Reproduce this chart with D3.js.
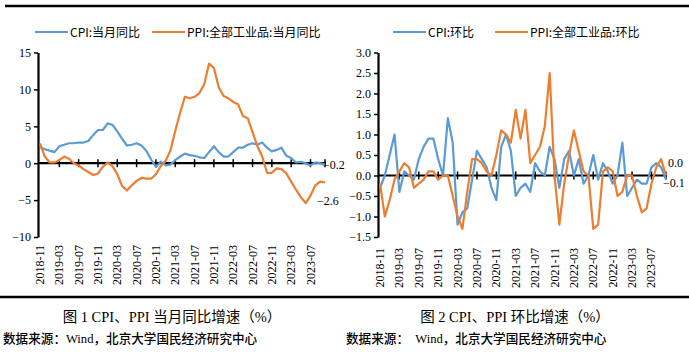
<!DOCTYPE html>
<html>
<head>
<meta charset="utf-8">
<script src="https://cdn.jsdelivr.net/npm/d3@7"></script>
<style>
  body { margin: 0; background: #fff; }
  svg { display: block; }
  .tick text { font-family: "Liberation Serif", "Times New Roman", serif; font-size: 12px; fill: #000; }
</style>
</head>
<body>
<script>
// months 2018-11 .. 2023-10
var months = [
  "2018-11","2018-12",
  "2019-01","2019-02","2019-03","2019-04","2019-05","2019-06","2019-07","2019-08","2019-09","2019-10","2019-11","2019-12",
  "2020-01","2020-02","2020-03","2020-04","2020-05","2020-06","2020-07","2020-08","2020-09","2020-10","2020-11","2020-12",
  "2021-01","2021-02","2021-03","2021-04","2021-05","2021-06","2021-07","2021-08","2021-09","2021-10","2021-11","2021-12",
  "2022-01","2022-02","2022-03","2022-04","2022-05","2022-06","2022-07","2022-08","2022-09","2022-10","2022-11","2022-12",
  "2023-01","2023-02","2023-03","2023-04","2023-05","2023-06","2023-07","2023-08","2023-09","2023-10"
];
var tickLabels = ["2018-11","2019-03","2019-07","2019-11","2020-03","2020-07","2020-11",
  "2021-03","2021-07","2021-11","2022-03","2022-07","2022-11","2023-03","2023-07"];

// 当月同比
var cpiYoy = [2.2,1.9,
  1.7,1.5,2.3,2.5,2.7,2.7,2.8,2.8,3.0,3.8,4.5,4.5,
  5.4,5.2,4.3,3.3,2.4,2.5,2.7,2.4,1.7,0.5,-0.5,0.2,
  -0.3,-0.2,0.4,0.9,1.3,1.1,1.0,0.8,0.7,1.5,2.3,1.5,
  0.9,0.9,1.5,2.1,2.1,2.5,2.7,2.5,2.8,2.1,1.6,1.8,
  2.1,1.0,0.7,0.1,0.2,0.0,-0.3,0.1,0.0,-0.2];
var ppiYoy = [2.7,0.9,
  0.1,0.1,0.4,0.9,0.6,0.0,-0.3,-0.8,-1.2,-1.6,-1.4,-0.5,
  0.1,-0.4,-1.5,-3.1,-3.7,-3.0,-2.4,-2.0,-2.1,-2.1,-1.5,-0.4,
  0.3,1.7,4.4,6.8,9.0,8.8,9.0,9.5,10.7,13.5,12.9,10.3,
  9.1,8.8,8.3,8.0,6.4,6.1,4.2,2.3,0.9,-1.3,-1.3,-0.7,
  -0.8,-1.4,-2.5,-3.6,-4.6,-5.4,-4.4,-3.0,-2.5,-2.6];

// 环比
var cpiMom = [-0.3,0.0,
  0.5,1.0,-0.4,0.1,0.0,-0.1,0.4,0.7,0.9,0.9,0.4,0.0,
  1.4,0.8,-1.2,-0.9,-0.8,-0.1,0.6,0.4,0.2,-0.3,-0.6,0.7,
  1.0,0.6,-0.5,-0.3,-0.2,-0.4,0.3,0.1,0.0,0.7,0.4,-0.3,
  0.4,0.6,0.0,0.4,-0.2,0.0,0.5,-0.1,0.3,0.1,-0.2,0.0,
  0.8,-0.5,-0.3,-0.1,-0.2,-0.2,0.2,0.3,0.2,-0.1];
var ppiMom = [-0.2,-1.0,
  -0.6,-0.1,0.1,0.3,0.2,-0.3,-0.2,-0.1,0.1,0.1,-0.1,0.0,
  0.0,-0.5,-1.0,-1.3,-0.4,0.4,0.4,0.3,0.1,0.0,0.5,1.1,
  1.0,0.8,1.6,0.9,1.6,0.3,0.5,0.7,1.2,2.5,0.0,-1.2,
  -0.2,0.5,1.1,0.6,0.1,0.0,-1.3,-1.2,0.1,0.2,0.1,-0.5,
  -0.4,0.0,0.0,-0.5,-0.9,-0.8,-0.2,0.2,0.4,0.0];

var blue = "#5B9BD5", orange = "#ED7D31";
var W = 689, H = 352;

var svg = d3.select("body").append("svg")
    .attr("width", W).attr("height", H);

// frame lines top / bottom
svg.append("line").attr("x1", 5).attr("x2", W).attr("y1", 6).attr("y2", 6)
    .attr("stroke", "#000").attr("stroke-width", 2.5);
svg.append("line").attr("x1", 0).attr("x2", W).attr("y1", 297).attr("y2", 297)
    .attr("stroke", "#000").attr("stroke-width", 2.5);

function plot_panel(p) {
    var x = d3.scalePoint().domain(months).range([p.x0, p.x1]);
    var y = d3.scaleLinear().domain(p.ylim).range([237, 52.5]);
    var g = svg.append("g");

    // y axis
    var yAx = g.append("g")
        .attr("transform", "translate(" + p.ax + ",0)")
        .call(d3.axisLeft(y).tickValues(p.yticks).tickFormat(p.yfmt).tickSize(4).tickSizeOuter(0));
    yAx.select(".domain").attr("stroke-width", 2.2);
    yAx.selectAll(".tick line").attr("stroke-width", 1.5);
    yAx.selectAll(".tick text").attr("x", -7);

    // zero line with crossing ticks
    var y0 = y(0);
    g.append("line").attr("x1", p.ax).attr("x2", p.x1 + 1)
        .attr("y1", y0).attr("y2", y0).attr("stroke", "#000").attr("stroke-width", 2.2);
    g.selectAll(".xt").data(tickLabels.slice(1).concat([months[months.length - 1]]))
      .enter().append("line")
        .attr("x1", function(d) { return x(d); }).attr("x2", function(d) { return x(d); })
        .attr("y1", y0 - 4).attr("y2", y0 + 4)
        .attr("stroke", "#000").attr("stroke-width", 1.5);

    // x labels at bottom, rotated
    g.selectAll(".xl").data(tickLabels).enter().append("text")
        .attr("transform", function(d) { return "translate(" + (x(d) + 4) + "," + p.labTop + ") rotate(-90)"; })
        .attr("text-anchor", "end")
        .style("font-family", "'Liberation Serif', 'Times New Roman', serif")
        .style("font-size", "12px")
        .text(function(d) { return d; });

    // lines
    var line = d3.line()
        .x(function(d, i) { return x(months[i]); })
        .y(function(d) { return y(d); });
    [[p.cpi, blue], [p.ppi, orange]].forEach(function(s) {
        g.append("path").attr("d", line(s[0]))
            .attr("fill", "none").attr("stroke", s[1])
            .attr("stroke-width", 2.2).attr("stroke-linejoin", "round");
    });

    // end labels
    var last = months.length - 1;
    p.endLabels.forEach(function(l) {
        g.append("text")
            .attr("x", x(months[last]) + l.dx)
            .attr("y", y(l.v) + l.dy)
            .style("font-family", "'Liberation Serif', 'Times New Roman', serif")
            .style("font-size", "12px")
            .text(p.yfmtLab(l.v));
    });

    // legend
    var lg = g.append("g").attr("transform", "translate(0,32)");
    p.legend.forEach(function(l) {
        lg.append("line").attr("x1", l.x).attr("x2", l.x + 33).attr("y1", 0).attr("y2", 0)
            .attr("stroke", l.c).attr("stroke-width", 2.2);
        lg.append("text").attr("x", l.x + 35).attr("y", 4.5)
            .style("font-family", "'Noto Sans CJK SC', sans-serif")
            .style("font-size", "12px")
            .text(l.t);
    });

    // caption & source
    g.append("text").attr("x", p.capX).attr("y", 322).attr("text-anchor", "middle")
        .style("font-family", "'Liberation Serif', 'Noto Sans CJK SC', serif")
        .style("font-size", "14.5px")
        .text(p.caption);
    g.append("text").attr("x", p.srcX).attr("y", 343)
        .style("font-family", "'Liberation Serif', 'Noto Sans CJK SC', serif")
        .style("font-size", "12.6px")
        .style("font-weight", "500")
        .attr("xml:space", "preserve")
        .text(p.source);
}

plot_panel({
    ax: 38, x0: 40, x1: 325, ylim: [-10, 15], yticks: [-10, -5, 0, 5, 10, 15],
    yfmt: d3.format("d"), yfmtLab: d3.format(".1f"), labTop: 245,
    cpi: cpiYoy, ppi: ppiYoy,
    endLabels: [{v: cpiYoy[cpiYoy.length - 1], dx: -2, dy: 4.5}, {v: ppiYoy[ppiYoy.length - 1], dx: -8, dy: 23}],
    legend: [{x: 35, c: blue, t: "CPI:当月同比"}, {x: 152, c: orange, t: "PPI:全部工业品:当月同比"}],
    caption: "图 1 CPI、PPI 当月同比增速（%）", capX: 172,
    source: "数据来源：Wind，北京大学国民经济研究中心", srcX: 3
});

plot_panel({
    ax: 378, x0: 380, x1: 666, ylim: [-1.5, 3], yticks: [-1.5, -1, -0.5, 0, 0.5, 1, 1.5, 2, 2.5, 3],
    yfmt: d3.format(".1f"), yfmtLab: d3.format(".1f"), labTop: 248,
    cpi: cpiMom, ppi: ppiMom,
    endLabels: [{v: ppiMom[ppiMom.length - 1], dx: 2, dy: -9}, {v: cpiMom[cpiMom.length - 1], dx: -3, dy: 7}],
    legend: [{x: 393, c: blue, t: "CPI:环比"}, {x: 495, c: orange, t: "PPI:全部工业品:环比"}],
    caption: "图 2 CPI、PPI 环比增速（%）", capX: 515,
    source: "数据来源：  Wind，北京大学国民经济研究中心", srcX: 346
});
</script>
</body>
</html>
